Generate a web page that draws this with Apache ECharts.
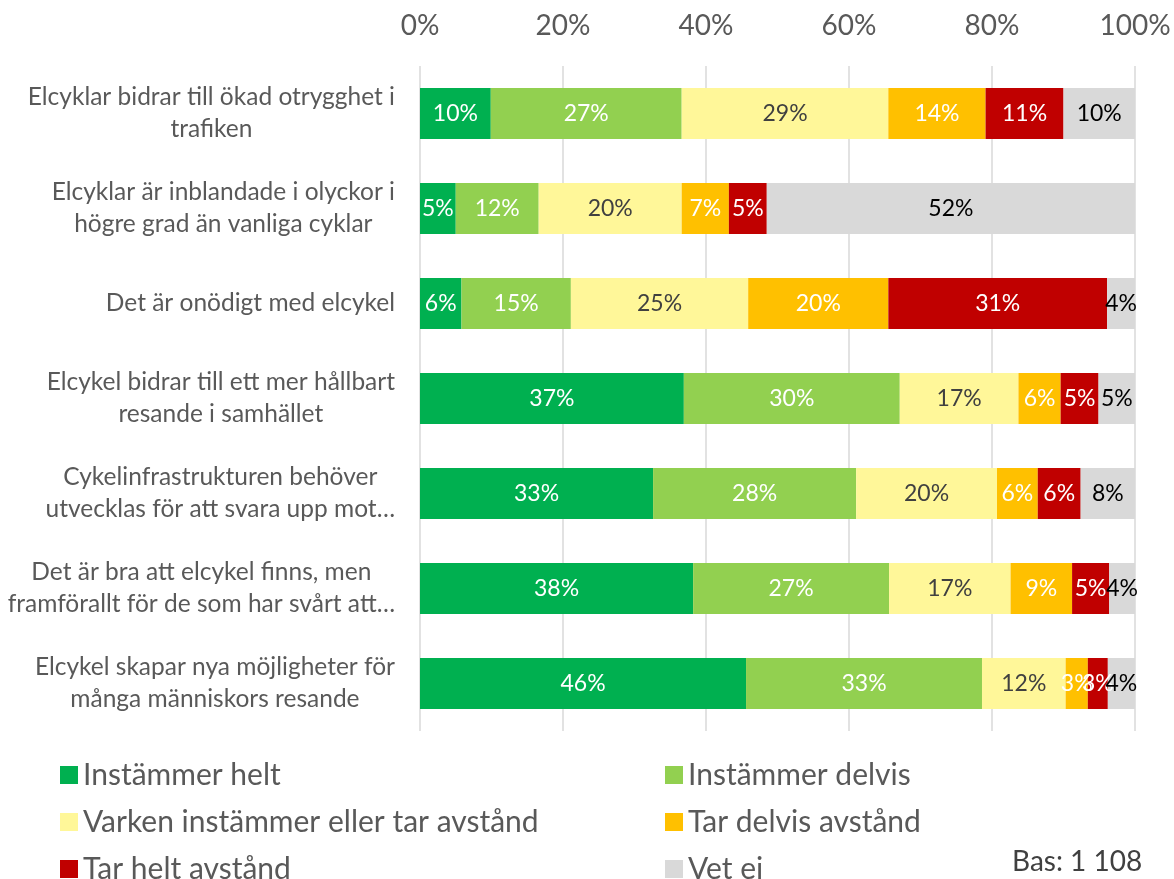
<!DOCTYPE html>
<html>
<head>
<meta charset="utf-8">
<script src="https://cdn.jsdelivr.net/npm/echarts@6/dist/echarts.min.js"></script>
<style>
html,body{margin:0;padding:0;background:#fff;}
#chart{width:1174px;height:879px;}
</style>
</head>
<body>
<div id="chart"></div>
<script>
const categories = [
  "Elcyklar bidrar till ökad otrygghet i\ntrafiken",
  "Elcyklar är inblandade i olyckor i\nhögre grad än vanliga cyklar",
  "Det är onödigt med elcykel",
  "Elcykel bidrar till ett mer hållbart\nresande i samhället",
  "Cykelinfrastrukturen behöver\nutvecklas för att svara upp mot…",
  "Det är bra att elcykel finns, men\nframförallt för de som har svårt att…",
  "Elcykel skapar nya möjligheter för\nmånga människors resande"
];
const seriesNames = ["Instämmer helt", "Instämmer delvis", "Varken instämmer eller tar avstånd", "Tar delvis avstånd", "Tar helt avstånd", "Vet ej"];
const instammerHelt   = [9.9, 5.0, 5.8, 36.9, 32.6, 38.2, 45.6];
const instammerDelvis = [26.7, 11.6, 15.3, 30.2, 28.4, 27.4, 33.0];
const varken          = [28.9, 20.0, 24.8, 16.6, 19.7, 17.0, 11.7];
const tarDelvis       = [13.6, 6.6, 19.6, 5.9, 5.7, 8.6, 3.1];
const tarHelt         = [10.9, 5.3, 30.6, 5.3, 6.0, 5.2, 2.8];
const vetEj           = [10.0, 51.6, 4.0, 5.1, 7.7, 3.7, 3.8];
const xTicks = [0, 20, 40, 60, 80, 100];
const basText = "Bas: 1 108";

const seriesData = [instammerHelt, instammerDelvis, varken, tarDelvis, tarHelt, vetEj];
const colors = ["#00B050", "#92D050", "#FFF799", "#FFC000", "#C00000", "#D9D9D9"];
const labelColors = ["#FFFFFF", "#FFFFFF", "#404040", "#FFFFFF", "#FFFFFF", "#000000"];
const FONT = "Lato";

const chart = echarts.init(document.getElementById('chart'), null, {renderer: 'canvas'});
const legendCommon = {
  orient: 'vertical', top: 760, height: 200, padding: 0,
  itemWidth: 18, itemHeight: 18, itemGap: 17,
  icon: 'rect', textStyle: {fontSize: 30, color: '#595959', fontFamily: FONT}
};
const option = {
  animation: false,
  backgroundColor: '#fff',
  textStyle: {fontFamily: FONT},
  grid: {left: 420, right: 39, top: 66, height: 665, containLabel: false, outerBoundsMode: 'none'},
  xAxis: {
    type: 'value', position: 'top', min: xTicks[0], max: xTicks[xTicks.length - 1], interval: 20,
    axisLine: {show: false}, axisTick: {show: false},
    splitLine: {show: true, lineStyle: {color: '#D9D9D9', width: 1.5}},
    axisLabel: {formatter: '{value}%', fontSize: 28, color: '#595959', fontFamily: FONT, margin: 26}
  },
  yAxis: {
    type: 'category', inverse: true, data: categories,
    axisLine: {show: false}, axisTick: {show: false},
    axisLabel: {
      align: 'right', margin: 25, color: '#595959', fontFamily: FONT, fontSize: 24.5,
      formatter: v => v.split('\n').map(l => '{c|' + l + '}').join('\n'),
      rich: {c: {align: 'center', fontSize: 24.5, lineHeight: 32, color: '#595959', fontFamily: FONT}}
    }
  },
  legend: [
    Object.assign({data: [seriesNames[0], seriesNames[2], seriesNames[4]], left: 60}, legendCommon),
    Object.assign({data: [seriesNames[1], seriesNames[3], seriesNames[5]], left: 665}, legendCommon)
  ],
  graphic: [{
    type: 'text', left: 1012, top: 848,
    style: {text: basText, fontSize: 28, fill: '#404040', fontFamily: FONT}
  }],
  series: seriesNames.map((name, i) => ({
    name: name, type: 'bar', stack: 'total', barWidth: 51,
    data: seriesData[i],
    itemStyle: {color: colors[i]},
    label: {
      show: true, position: 'inside', color: labelColors[i], fontSize: 23, fontFamily: FONT,
      formatter: p => Math.round(p.value) + '%'
    }
  }))
};
chart.setOption(option);
</script>
</body>
</html>
